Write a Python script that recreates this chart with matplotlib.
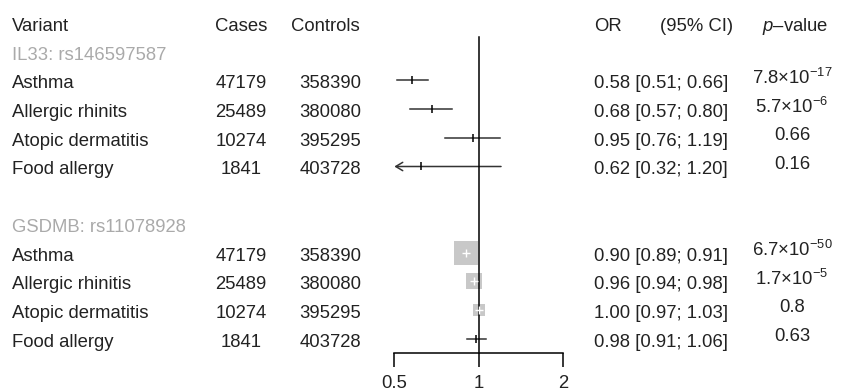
import numpy as np
import matplotlib.pyplot as plt
from matplotlib import transforms

# --- FOREST PLOT: IL33 / GSDMB variants vs allergic disease ---

plt.rcParams['font.family'] = ['Liberation Sans', 'DejaVu Sans']
plt.rcParams['mathtext.fontset'] = 'custom'
plt.rcParams['mathtext.rm'] = 'Liberation Sans'
plt.rcParams['mathtext.it'] = 'Liberation Sans:italic'

# 1. DATA
il33_label = 'IL33: rs146597587'
il33_names = ['Asthma', 'Allergic rhinits', 'Atopic dermatitis', 'Food allergy']
il33_cases = [47179, 25489, 10274, 1841]
il33_controls = [358390, 380080, 395295, 403728]
il33_or = [0.58, 0.68, 0.95, 0.62]
il33_lo = [0.51, 0.57, 0.76, 0.32]
il33_hi = [0.66, 0.80, 1.19, 1.20]
il33_p = ['7.8×10$^{-17}$', '5.7×10$^{-6}$', '0.66', '0.16']

gsdmb_label = 'GSDMB: rs11078928'
gsdmb_names = ['Asthma', 'Allergic rhinitis', 'Atopic dermatitis', 'Food allergy']
gsdmb_cases = [47179, 25489, 10274, 1841]
gsdmb_controls = [358390, 380080, 395295, 403728]
gsdmb_or = [0.90, 0.96, 1.00, 0.98]
gsdmb_lo = [0.89, 0.94, 0.97, 0.91]
gsdmb_hi = [0.91, 0.98, 1.03, 1.06]
gsdmb_p = ['6.7×10$^{-50}$', '1.7×10$^{-5}$', '0.8', '0.63']

xticks = [0.5, 1, 2]

groups = [
    (il33_label, il33_names, il33_cases, il33_controls, il33_or, il33_lo, il33_hi, il33_p),
    (gsdmb_label, gsdmb_names, gsdmb_cases, gsdmb_controls, gsdmb_or, gsdmb_lo, gsdmb_hi, gsdmb_p),
]

# 2. LAYOUT (pixels)
W, H = 842, 391
PITCH = 28.7      # row height
TOP = 23          # centre of header row
XMIN, XMAX = xticks[0], xticks[-1]
TXT = '#222222'
GREY_TXT = '#aaaaaa'
LINE = '#333333'
BOX = '#c8c8c8'

fig = plt.figure(figsize=(W / 100, H / 100), dpi=100)

# background axes in pixel units for the text columns
bg = fig.add_axes([0, 0, 1, 1])
bg.set_xlim(0, W)
bg.set_ylim(H, 0)
bg.axis('off')

# forest axes, log2 scale from 0.5 to 2
ax = fig.add_axes([394.3 / W, 0, (563.3 - 394.3) / W, 1])
ax.set_xscale('log', base=2)
ax.set_xlim(XMIN, XMAX)
ax.set_ylim((H - TOP) / PITCH, -TOP / PITCH)
ax.patch.set_visible(False)

tr = transforms.blended_transform_factory(bg.transData, ax.transData)
fs = 13.3
dy = 0.12   # text sits slightly below the mark line

# header
ax_hdr = 0
bg.text(12, ax_hdr + dy, 'Variant', transform=tr, fontsize=fs, color=TXT, va='center', ha='left')
bg.text(241, ax_hdr + dy, 'Cases', transform=tr, fontsize=fs, color=TXT, va='center', ha='center')
bg.text(360, ax_hdr + dy, 'Controls', transform=tr, fontsize=fs, color=TXT, va='center', ha='right')
bg.text(594, ax_hdr + dy, 'OR', transform=tr, fontsize=fs, color=TXT, va='center', ha='left')
bg.text(660, ax_hdr + dy, '(95% CI)', transform=tr, fontsize=fs, color=TXT, va='center', ha='left')
bg.text(795, ax_hdr + dy, '$p$–value', transform=tr, fontsize=fs, color=TXT, va='center', ha='center')

# effect-size scale: side of the box in px grows with precision
se_all = [(np.log(h) - np.log(l)) / (2 * 1.96)
          for g in groups for l, h in zip(g[5], g[6])]
se_ref = min(se_all)

row = 1
last_row = 0
for label, names, cases, controls, ors, los, his, ps in groups:
    bg.text(12, row + dy, label, transform=tr, fontsize=fs, color=GREY_TXT, va='center', ha='left')
    row += 1
    for name, ca, co, o, lo, hi, p in zip(names, cases, controls, ors, los, his, ps):
        y = row
        bg.text(12, y + dy, name, transform=tr, fontsize=fs, color=TXT, va='center', ha='left')
        bg.text(241, y + dy, str(ca), transform=tr, fontsize=fs, color=TXT, va='center', ha='center')
        bg.text(361, y + dy, str(co), transform=tr, fontsize=fs, color=TXT, va='center', ha='right')
        bg.text(594, y + dy, f'{o:.2f} [{lo:.2f}; {hi:.2f}]', transform=tr,
                fontsize=fs, color=TXT, va='center', ha='left')
        bg.text(792, y - 0.08, p, transform=tr, fontsize=fs, color=TXT, va='center', ha='center')

        # confidence interval
        if lo < XMIN:
            ax.annotate('', xy=(XMIN, y), xytext=(hi, y),
                        arrowprops=dict(arrowstyle='->,head_length=0.5,head_width=0.3',
                                        lw=1.1, color=LINE, shrinkA=0, shrinkB=0),
                        annotation_clip=False)
        else:
            ax.plot([lo, hi], [y, y], color=LINE, lw=1.1, zorder=2, clip_on=False)

        # box
        se = (np.log(hi) - np.log(lo)) / (2 * 1.96)
        side = 23.5 * (se / se_ref) ** -0.6
        if side >= 8:
            ax.scatter([o], [y], marker='s', s=(side * 0.72) ** 2, color=BOX,
                       linewidths=0, zorder=3, clip_on=False)
            ax.plot([o], [y], marker='+', ms=5.5, mew=1.0, color='white', zorder=5)
        else:
            ax.plot([o], [y], marker='|', ms=6, mew=1.1, color='black', zorder=5)
        last_row = y
        row += 1
    row += 1

axis_y = last_row + 0.49

# reference line at OR = 1
ax.plot([1, 1], [0.48, axis_y], color='black', lw=1.1, zorder=4)

# bottom scale
for s in ['top', 'left', 'right']:
    ax.spines[s].set_visible(False)
ax.spines['bottom'].set_position(('data', axis_y))
ax.spines['bottom'].set_linewidth(1.1)
ax.set_yticks([])
ax.set_xticks(xticks)
ax.set_xticklabels(['0.5', '1', '2'])
ax.minorticks_off()
ax.tick_params(axis='x', direction='out', length=10, width=1.1, pad=6,
               labelsize=fs, labelcolor=TXT)

fig.savefig('out.png', dpi=100)
